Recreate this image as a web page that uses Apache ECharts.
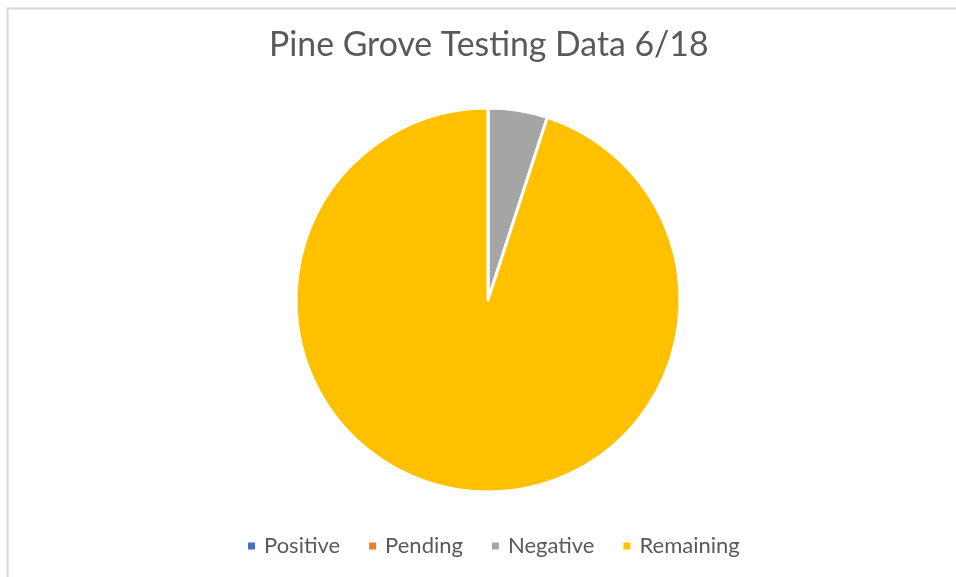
<!DOCTYPE html>
<html>
<head>
<meta charset="utf-8">
<script src="https://cdn.jsdelivr.net/npm/echarts@6/dist/echarts.min.js"></script>
<style>
  html, body { margin: 0; padding: 0; background: #fff; }
  #chart { width: 956px; height: 577px; }
</style>
</head>
<body>
<div id="chart"></div>
<script>
// Test results for Pine Grove, 6/18 (share of total)
const categories = ['Positive', 'Pending', 'Negative', 'Remaining'];
const values = [0, 0, 5, 95];
const colors = ['#4472C4', '#ED7D31', '#A5A5A5', '#FFC000'];

const chart = echarts.init(document.getElementById('chart'));
const font = 'Lato, "Open Sans", sans-serif';

chart.setOption({
  backgroundColor: '#ffffff',
  animation: false,
  color: colors,
  title: {
    text: 'Pine Grove Testing Data 6/18',
    left: 264,
    top: 23,
    textStyle: { fontFamily: font, fontSize: 33.8, fontWeight: 'normal', color: '#595959' }
  },
  legend: {
    bottom: 15,
    left: 241,
    icon: 'rect',
    itemWidth: 9,
    itemHeight: 9,
    itemGap: 27,
    textStyle: { fontFamily: font, fontSize: 22, color: '#595959', padding: [0, 0, 0, 3] },
    data: categories
  },
  graphic: [{
    type: 'rect',
    shape: { x: 7.5, y: 8.5, width: 1000, height: 1000 },
    style: { fill: 'none', stroke: '#D9D9D9', lineWidth: 2 },
    silent: true
  }],
  series: [{
    type: 'pie',
    center: [488, 300],
    radius: 192,
    startAngle: 90,
    clockwise: true,
    label: { show: false },
    labelLine: { show: false },
    itemStyle: { borderColor: '#ffffff', borderWidth: 3 },
    emphasis: { disabled: true },
    data: categories.map((name, i) => ({ name, value: values[i] }))
  }]
});
</script>
</body>
</html>
